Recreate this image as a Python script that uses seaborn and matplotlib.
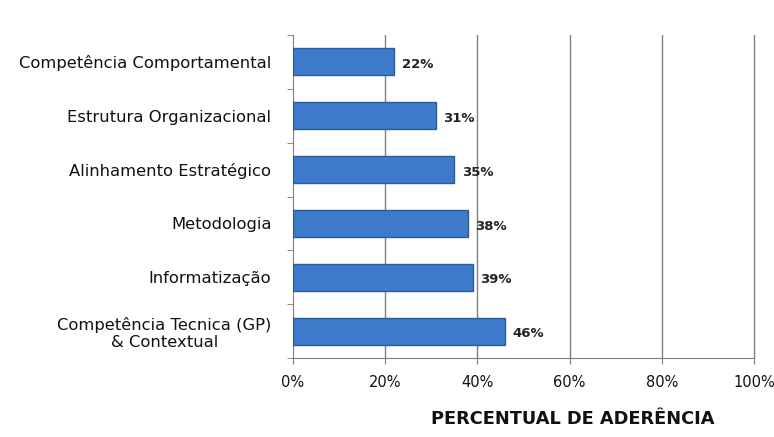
import matplotlib
matplotlib.use("Agg")
import matplotlib.pyplot as plt
import seaborn as sns
import pandas as pd

categories = ["Competência Comportamental", "Estrutura Organizacional", "Alinhamento Estratégico",
              "Metodologia", "Informatização", "Competência Tecnica (GP)\n& Contextual"]
values = [22, 31, 35, 38, 39, 46]
xticks = [0, 20, 40, 60, 80, 100]
xticklabels = ["0%", "20%", "40%", "60%", "80%", "100%"]

sns.set_style("white")
plt.rcParams['font.family'] = ['DejaVu Sans']

df = pd.DataFrame({"cat": categories, "val": values})
fig = plt.figure(figsize=(7.74, 4.37), dpi=100)
ax = fig.add_axes([293/774, 1-358/437, (754-293)/774, (358-35)/437])
sns.barplot(data=df, x="val", y="cat", orient="h", color="#3D7ACB", width=0.5,
            edgecolor="#2A5C9E", linewidth=1.0, saturation=1, ax=ax, zorder=3)
ax.set_xlim(0, 100)
ax.set_xticks(xticks)
ax.set_xticklabels(xticklabels, fontsize=10.5, color="#111111")
ax.set_xlabel("")
ax.set_ylabel("")
ax.grid(False)
for xv in xticks[1:]:
    ax.axvline(xv, color="#808080", linewidth=1.0, zorder=0, clip_on=False)
for s in ["top", "right"]:
    ax.spines[s].set_visible(False)
ax.spines["left"].set_color("#7f7f7f")
ax.spines["bottom"].set_color("#7f7f7f")
ax.tick_params(axis="y", left=False, labelsize=11.8, pad=12, labelcolor="#111111")
ax.tick_params(axis="x", bottom=True, length=4, color="#7f7f7f", pad=8)
for lbl in ax.get_yticklabels():
    lbl.set_multialignment("center")
ax.set_yticks([i + 0.5 for i in range(-1, len(categories))], minor=True)
ax.tick_params(axis="y", which="minor", left=True, length=4, color="#7f7f7f")
for i, v in enumerate(values):
    ax.text(v + 1.6, i + 0.05, f"{v}%", va="center", ha="left", fontsize=9.5, fontweight="bold", color="#222222")
fig.text(573/774, 1-419/437, "PERCENTUAL DE ADERÊNCIA", ha="center", va="center",
         fontsize=12.8, fontweight="bold", color="#111111")
fig.savefig("out.png", dpi=100)
